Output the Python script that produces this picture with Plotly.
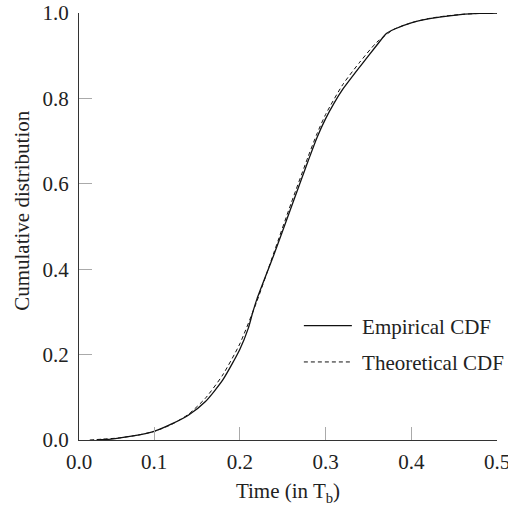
import plotly.graph_objects as go

# Empirical CDF (solid)
emp_x = [0.033, 0.05, 0.07, 0.09, 0.10, 0.12, 0.14, 0.16, 0.18, 0.20, 0.21, 0.215, 0.22,
         0.24, 0.26, 0.28, 0.29, 0.30, 0.31, 0.32, 0.34, 0.36, 0.371, 0.38, 0.40, 0.42, 0.44,
         0.46, 0.48, 0.50]
emp_y = [0.0, 0.002, 0.008, 0.015, 0.020, 0.037, 0.058, 0.090, 0.140, 0.212, 0.262, 0.298, 0.33,
         0.435, 0.545, 0.655, 0.708, 0.752, 0.789, 0.821, 0.874, 0.925, 0.952, 0.962, 0.977,
         0.986, 0.992, 0.997, 0.999, 1.0]

# Theoretical CDF (dashed)
theo_x = [0.025, 0.04, 0.06, 0.08, 0.10, 0.12, 0.14, 0.16, 0.18, 0.20, 0.22, 0.24, 0.26,
          0.28, 0.29, 0.30, 0.32, 0.34, 0.36, 0.38, 0.40, 0.42, 0.44, 0.46, 0.48, 0.50]
theo_y = [0.0, 0.002, 0.005, 0.011, 0.020, 0.036, 0.060, 0.098, 0.152, 0.225, 0.325, 0.44, 0.555,
          0.665, 0.717, 0.762, 0.832, 0.885, 0.932, 0.962, 0.977, 0.987, 0.993, 0.997, 0.999, 1.0]

x_tickvals = [0.0125, 0.1, 0.2, 0.3, 0.4, 0.5]
x_ticktext = ["0.0", "0.1", "0.2", "0.3", "0.4", "0.5"]
y_tickvals = [0.0, 0.2, 0.4, 0.6, 0.8, 1.0]
y_ticktext = ["0.0", "0.2", "0.4", "0.6", "0.8", "1.0"]

FONT = "Liberation Serif"
FS = 21
TXT = "#222222"
NB = "\u00a0"

fig = go.Figure()
fig.add_trace(go.Scatter(x=emp_x, y=emp_y, mode="lines", name=NB + "Empirical CDF",
                         line=dict(color="#111111", width=1.3, shape="spline", smoothing=0.6),
                         legendgroup="a"))
fig.add_trace(go.Scatter(x=theo_x, y=theo_y, mode="lines", name=NB + "Theoretical CDF",
                         line=dict(color="#111111", width=1.0, dash="4px,3px", shape="spline", smoothing=0.6),
                         legendgroup="b"))

fig.update_layout(
    width=508, height=506,
    margin=dict(l=79, r=11, t=13, b=66, autoexpand=False),
    paper_bgcolor="white", plot_bgcolor="white",
    font=dict(family=FONT, size=FS, color=TXT),
    showlegend=True,
    legend=dict(x=0.526, y=0.315, xanchor="left", yanchor="top", bgcolor="rgba(0,0,0,0)",
                font=dict(family=FONT, size=FS, color=TXT), tracegroupgap=6,
                itemwidth=48),
    xaxis=dict(range=[0.0125, 0.5], tickvals=x_tickvals, ticktext=x_ticktext, automargin=False,
               showgrid=False, zeroline=False, showline=True, linecolor="#333333", linewidth=1.2,
               ticks="inside", ticklen=13, tickwidth=1.2, tickcolor="#aaaaaa",
               ticklabelstandoff=3, ticklabeloverflow="allow",
               tickfont=dict(family=FONT, size=FS, color=TXT),
               title=dict(text="Time (in T<sub>b</sub>)", font=dict(family=FONT, size=FS, color=TXT), standoff=10)),
    yaxis=dict(range=[0, 1], tickvals=y_tickvals, ticktext=y_ticktext, automargin=False,
               showgrid=False, zeroline=False, showline=True, linecolor="#333333", linewidth=1.2,
               ticks="inside", ticklen=13, tickwidth=1.2, tickcolor="#aaaaaa",
               ticklabelstandoff=5, ticklabeloverflow="allow",
               tickfont=dict(family=FONT, size=FS, color=TXT)),
    annotations=[dict(text="Cumulative distribution", xref="paper", yref="paper",
                      x=-0.136, y=0.537, xanchor="center", yanchor="middle", textangle=-90,
                      showarrow=False, font=dict(family=FONT, size=FS, color=TXT))],
)

fig.write_html("out.html")
